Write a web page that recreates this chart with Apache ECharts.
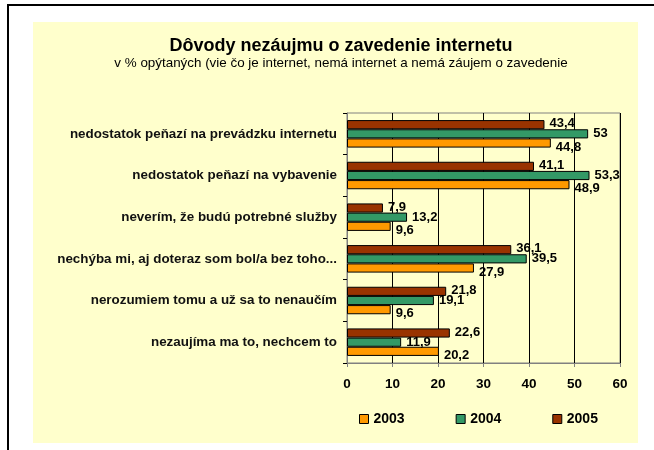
<!DOCTYPE html>
<html>
<head>
<meta charset="utf-8">
<script src="https://cdn.jsdelivr.net/npm/echarts@6/dist/echarts.min.js"></script>
<style>
    html, body { margin: 0; padding: 0; background: #fff; overflow: hidden; }
    .frame { position: absolute; left: 7px; top: 4px; width: 700px; height: 500px; border: 2px solid #000; }
    .js-chart { position: absolute; left: 0; top: 0; width: 654px; height: 450px; }
</style>
</head>
<body>
<div class="frame"></div>
<div class="js-chart"></div>
<script>
var categories = [
    'nedostatok peňazí na prevádzku internetu',
    'nedostatok peňazí na vybavenie',
    'neverím, že budú potrebné služby',
    'nechýba mi, aj doteraz som bol/a bez toho...',
    'nerozumiem tomu a už sa to nenaučím',
    'nezaujíma ma to, nechcem to'
];
var years = ['2003', '2004', '2005'];
var data2003 = [44.8, 48.9, 9.6, 27.9, 9.6, 20.2];
var data2004 = [53, 53.3, 13.2, 39.5, 19.1, 11.9];
var data2005 = [43.4, 41.1, 7.9, 36.1, 21.8, 22.6];
var xTicks = [0, 10, 20, 30, 40, 50, 60];

var font = 'Arial, "Liberation Sans", sans-serif';

var chartHolder = document.querySelector('.js-chart');
var chart = echarts.init(chartHolder);

function makeLabel(dy) {
    return {
        show: true,
        position: 'right',
        distance: 5,
        offset: [0, dy],
        fontFamily: font,
        fontSize: 13,
        fontWeight: 'bold',
        color: '#000',
        formatter: function (p) {
            return String(p.value).replace('.', ',');
        }
    };
}

var option = {
    animation: false,
    graphic: [{
        type: 'rect',
        z: -10,
        silent: true,
        shape: { x: 33, y: 22, width: 605, height: 421 },
        style: { fill: '#FFFFCC' }
    }],
    title: {
        text: 'Dôvody nezáujmu o zavedenie internetu',
        subtext: 'v % opýtaných (vie čo je internet, nemá internet a nemá záujem o zavedenie',
        left: 336,
        textAlign: 'center',
        top: 32,
        itemGap: 2,
        textStyle: { fontFamily: font, fontSize: 18, fontWeight: 'bold', color: '#000' },
        subtextStyle: { fontFamily: font, fontSize: 13.4, color: '#000' }
    },
    legend: {
        data: years,
        left: 354,
        top: 407,
        itemWidth: 9,
        itemHeight: 9,
        itemGap: 51,
        icon: 'rect',
        itemStyle: { borderColor: '#000', borderWidth: 1 },
        textStyle: { fontFamily: font, fontSize: 14, fontWeight: 'bold', color: '#000' }
    },
    grid: {
        left: 347,
        right: 34,
        top: 113,
        bottom: 87,
        show: true,
        backgroundColor: '#FFFFCC',
        borderColor: '#808080',
        borderWidth: 1
    },
    xAxis: {
        type: 'value',
        min: 0,
        max: 60,
        interval: 10,
        axisLine: { show: true, lineStyle: { color: '#808080' } },
        axisTick: { show: true, length: 4, lineStyle: { color: '#808080' } },
        splitLine: { show: true, lineStyle: { color: '#000', width: 1 } },
        axisLabel: {
            margin: 14,
            fontFamily: font, fontSize: 13.5, fontWeight: 'bold', color: '#000',
            formatter: function (v) { return xTicks.indexOf(v) >= 0 ? String(v) : ''; }
        }
    },
    yAxis: {
        type: 'category',
        inverse: true,
        data: categories,
        axisLine: { show: true, lineStyle: { color: '#808080' } },
        axisTick: { show: true, length: 4, lineStyle: { color: '#000' } },
        axisLabel: { margin: 10, fontFamily: font, fontSize: 13.4, fontWeight: 'bold', color: '#111' }
    },
    series: [{
        name: '2005',
        type: 'bar',
        barGap: '0%',
        barCategoryGap: '34%',
        itemStyle: { color: '#993300', borderColor: '#000', borderWidth: 1 },
        label: makeLabel(-1),
        data: data2005
    }, {
        name: '2004',
        type: 'bar',
        itemStyle: { color: '#339966', borderColor: '#000', borderWidth: 1 },
        label: makeLabel(0),
        data: data2004
    }, {
        name: '2003',
        type: 'bar',
        itemStyle: { color: '#FF9900', borderColor: '#000', borderWidth: 1 },
        label: makeLabel(4),
        data: data2003
    }]
};

chart.setOption(option);
</script>
</body>
</html>
